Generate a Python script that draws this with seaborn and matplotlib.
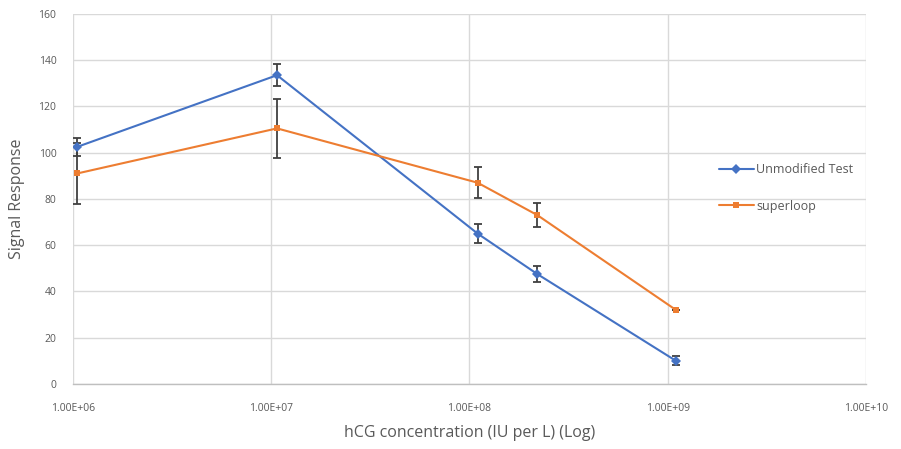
import numpy as np
import pandas as pd
import matplotlib
matplotlib.use("Agg")
import matplotlib.pyplot as plt
import seaborn as sns
from matplotlib.ticker import FixedLocator, FuncFormatter

# ---- data ----
concentration = [1.05e6, 1.07e7, 1.1e8, 2.2e8, 1.1e9]
unmodified = [102.5, 133.5, 65.0, 47.5, 10.0]
unmodified_err = [4.0, 4.7, 4.0, 3.5, 2.0]
superloop = [91.0, 110.5, 87.0, 73.0, 32.0]
superloop_err = [13.0, 12.7, 6.7, 5.2, 0.0]
series_names = ["Unmodified Test", "superloop"]
x_ticks = [1e6, 1e7, 1e8, 1e9, 1e10]
y_ticks = [0, 20, 40, 60, 80, 100, 120, 140, 160]

colors = {"Unmodified Test": "#4472C4", "superloop": "#ED7D31"}
markers = {"Unmodified Test": "D", "superloop": "s"}

df = pd.DataFrame({
    "conc": concentration * 2,
    "signal": unmodified + superloop,
    "err": unmodified_err + superloop_err,
    "series": [series_names[0]] * len(concentration) + [series_names[1]] * len(concentration),
})

sns.set_theme(style="white")
plt.rcParams["font.family"] = ["Open Sans", "DejaVu Sans"]

fig = plt.figure(figsize=(9.01, 4.49), dpi=100)
ax = fig.add_axes([0.081, 0.145, 0.880, 0.824])

sns.lineplot(data=df, x="conc", y="signal", hue="series", style="series",
             palette=colors, markers=markers, dashes=False, markersize=5,
             markeredgewidth=0, linewidth=1.5, ax=ax, legend=True)

for name in series_names:
    sub = df[df["series"] == name]
    ax.errorbar(sub["conc"], sub["signal"], yerr=sub["err"], fmt="none",
                ecolor="#404040", elinewidth=1.3, capsize=3, capthick=1.3, zorder=1)

ax.set_xscale("log")
ax.set_xlim(1e6, 1e10)
ax.set_ylim(0, 160)
ax.xaxis.set_major_locator(FixedLocator(x_ticks))
ax.xaxis.set_minor_locator(FixedLocator([]))
ax.xaxis.set_major_formatter(FuncFormatter(lambda v, p: "%.2E" % v))
ax.set_yticks(y_ticks)

ax.grid(True, color="#D9D9D9", linewidth=1.0)
ax.set_axisbelow(True)
for s in ["top", "right", "left"]:
    ax.spines[s].set_visible(False)
ax.spines["bottom"].set_color("#BFBFBF")
ax.spines["bottom"].set_linewidth(1.0)

ax.tick_params(axis="both", length=0, labelsize=7.5, labelcolor="#595959")
ax.tick_params(axis="x", pad=14)
ax.tick_params(axis="y", pad=12)

ax.set_xlabel("hCG concentration (IU per L) (Log)", fontsize=11.5, color="#595959", labelpad=8)
ax.set_ylabel("Signal Response", fontsize=11.5, color="#595959", labelpad=10)

leg = ax.legend(loc="center left", bbox_to_anchor=(0.80, 0.53), frameon=False,
                fontsize=9, labelspacing=1.9, handlelength=2.8, handletextpad=0.2,
                labelcolor="#595959")
for h in leg.legend_handles:
    h.set_markersize(5)

fig.savefig("out.png", dpi=100)
